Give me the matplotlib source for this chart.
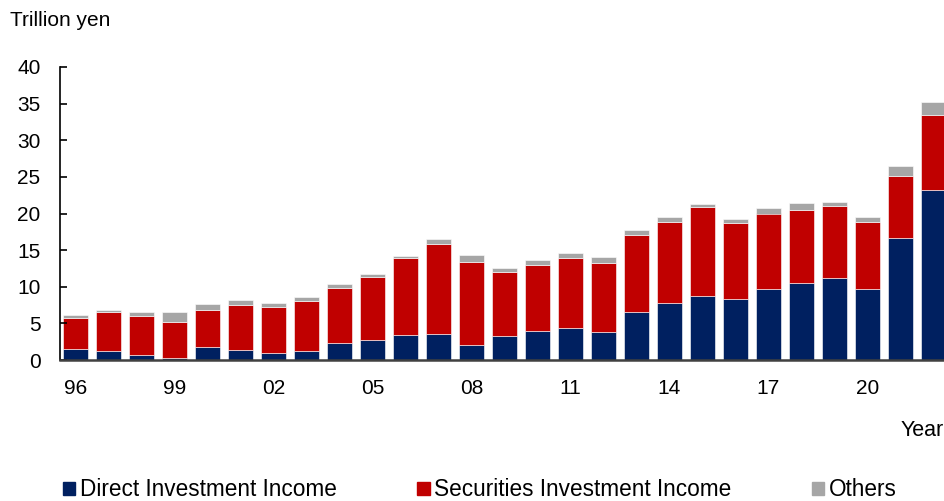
import numpy as np
import matplotlib.pyplot as plt
from matplotlib.patches import Patch

plt.rcParams['font.family'] = ['Liberation Sans', 'DejaVu Sans']

years = list(range(1996, 2023))
# stack tops (trillion yen)
direct = [1.46, 1.27, 0.72, 0.31, 1.72, 1.32, 0.91, 1.27, 2.36, 2.68,
          3.36, 3.50, 2.00, 3.22, 3.99, 4.31, 3.85, 6.57, 7.76, 8.75,
          8.26, 9.71, 10.57, 11.20, 9.71, 16.69, 23.22]
direct_plus_sec = [5.80, 6.57, 5.99, 5.21, 6.84, 7.53, 7.25, 8.07, 9.84, 11.33,
                   13.97, 15.83, 13.37, 12.07, 13.02, 13.92, 13.29, 17.10, 18.82, 20.86,
                   18.68, 20.00, 20.45, 21.00, 18.82, 25.17, 33.51]
total = [6.10, 6.80, 6.57, 6.49, 7.66, 8.16, 7.80, 8.57, 10.34, 11.80,
         14.24, 16.46, 14.33, 12.61, 13.60, 14.65, 14.01, 17.69, 19.46, 21.36,
         19.22, 20.72, 21.50, 21.63, 19.50, 26.44, 35.28]

securities = [b - a for a, b in zip(direct, direct_plus_sec)]
others = [c - b for b, c in zip(direct_plus_sec, total)]

tick_pos = list(range(0, 27, 3))
tick_labels = ['96', '99', '02', '05', '08', '11', '14', '17', '20']

c_dir = '#002060'
c_sec = '#C00000'
c_oth = '#A6A6A6'

fig = plt.figure(figsize=(9.44, 5.01), dpi=100)
ax = fig.add_axes([60 / 944, 1 - 360 / 501, 1 - 60 / 944, (360 - 67) / 501])

x = np.arange(len(years))
w = 0.78
ax.bar(x, direct, w, color=c_dir, edgecolor='white', linewidth=0.4)
ax.bar(x, securities, w, bottom=direct, color=c_sec, edgecolor='white', linewidth=0.4)
ax.bar(x, others, w, bottom=direct_plus_sec, color=c_oth, edgecolor='white', linewidth=0.4)

ax.set_xlim(-0.47, 26.32)
ax.set_ylim(0, 40)
ax.set_yticks(range(0, 41, 5))
ax.set_xticks(tick_pos)
ax.set_xticklabels(tick_labels)

for s in ['top', 'right']:
    ax.spines[s].set_visible(False)
ax.spines['left'].set_color('black')
ax.spines['left'].set_linewidth(1.2)
ax.spines['bottom'].set_color('#404040')
ax.spines['bottom'].set_linewidth(1.8)

ax.tick_params(axis='y', direction='in', length=5, width=1.2, pad=14, labelsize=15)
ax.tick_params(axis='x', length=0, pad=14, labelsize=15)

fig.text(10 / 944, 1 - 21 / 501, 'Trillion yen', fontsize=15, va='center', ha='left')
fig.text(1.0, 1 - 430 / 501, 'Year', fontsize=15.5, va='center', ha='right')

handles = [Patch(color=c_dir), Patch(color=c_sec), Patch(color=c_oth)]
labels = ['Direct Investment Income', 'Securities Investment Income', 'Others']
fig.legend(handles, labels, loc='center left', bbox_to_anchor=(63 / 944, 1 - 490 / 501),
           ncol=3, frameon=False, fontsize=16.3, borderpad=0, borderaxespad=0,
           handlelength=0.55, handleheight=0.55, handletextpad=0.2, columnspacing=3.55)

fig.savefig('out.png', dpi=100)
